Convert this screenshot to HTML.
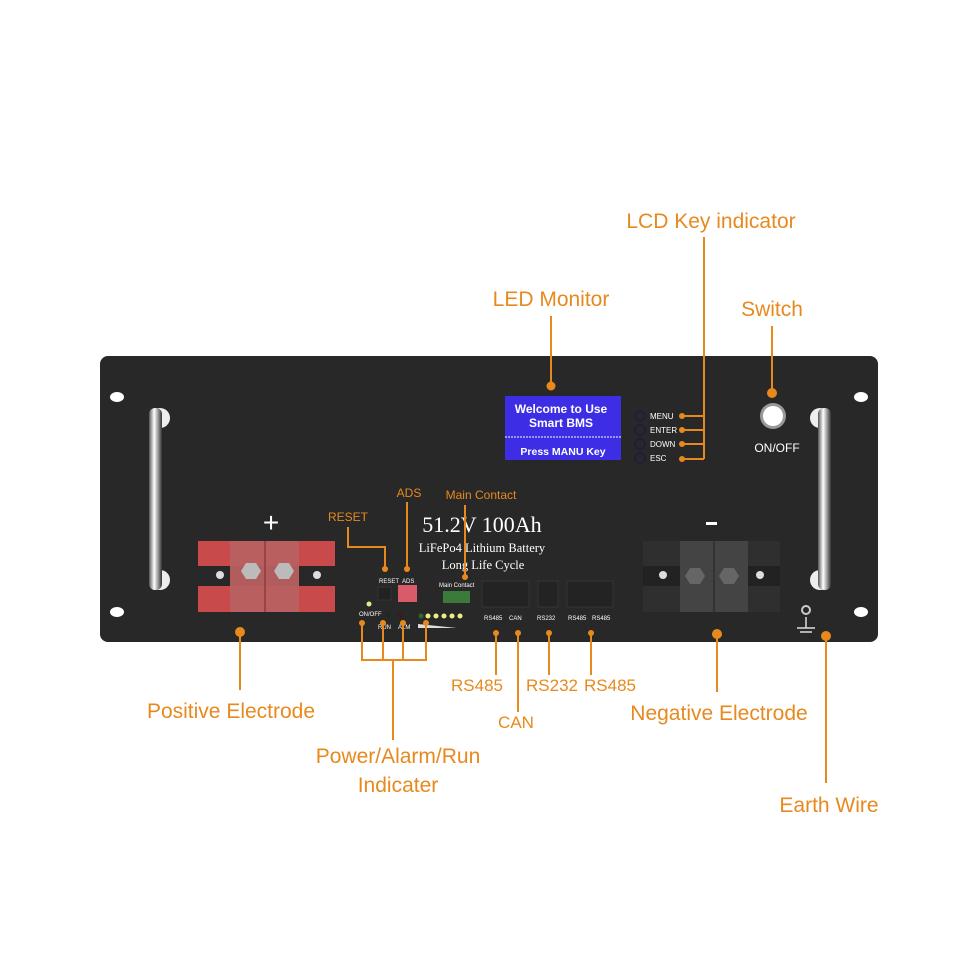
<!DOCTYPE html>
<html><head><meta charset="utf-8"><style>
html,body{margin:0;padding:0;background:#fff;width:960px;height:960px;overflow:hidden}
svg{display:block}
.o{fill:#e8891e;font-family:"Liberation Sans",sans-serif}
.w{fill:#fff;font-family:"Liberation Sans",sans-serif}
</style></head><body>
<svg width="960" height="960" viewBox="0 0 960 960">
<defs>
<linearGradient id="hd" x1="0" x2="1"><stop offset="0" stop-color="#555"/><stop offset=".4" stop-color="#fff"/><stop offset=".7" stop-color="#999"/><stop offset="1" stop-color="#333"/></linearGradient>
</defs>
<!-- panel -->
<rect x="100" y="356" width="778" height="286" rx="8" fill="#282828"/>
<!-- holes -->
<ellipse cx="117" cy="397" rx="7" ry="5" fill="#fff"/>
<ellipse cx="117" cy="612" rx="7" ry="5" fill="#fff"/>
<ellipse cx="861" cy="397" rx="7" ry="5" fill="#fff"/>
<ellipse cx="861" cy="612" rx="7" ry="5" fill="#fff"/>
<!-- handles -->
<circle cx="160" cy="418" r="10" fill="#eee"/><circle cx="160" cy="580" r="10" fill="#eee"/>
<rect x="149" y="408" width="13" height="182" rx="6" fill="url(#hd)"/>
<circle cx="820" cy="418" r="10" fill="#eee"/><circle cx="820" cy="580" r="10" fill="#eee"/>
<rect x="818" y="408" width="13" height="182" rx="6" fill="url(#hd)"/>
<!-- positive terminal -->
<rect x="198" y="541" width="137" height="71" fill="#c94a4a"/>
<rect x="198" y="566" width="137" height="20" fill="#282828"/>
<rect x="230" y="541" width="69" height="71" fill="#b86060" opacity=".95"/>
<rect x="264" y="541" width="2" height="71" fill="#944"/>
<polygon points="241,571 246,563 256,563 261,571 256,579 246,579" fill="#bbb"/>
<polygon points="274,571 279,563 289,563 294,571 289,579 279,579" fill="#bbb"/>
<circle cx="220" cy="575" r="4" fill="#ddd"/><circle cx="317" cy="575" r="4" fill="#ddd"/>
<text x="271" y="532" class="w" font-size="28" text-anchor="middle">+</text>
<!-- negative terminal -->
<rect x="643" y="541" width="137" height="71" fill="#2f2f2f"/>
<rect x="643" y="566" width="137" height="20" fill="#222"/>
<rect x="680" y="541" width="68" height="71" fill="#444"/>
<rect x="713" y="541" width="2" height="71" fill="#333"/>
<polygon points="685,576 690,568 700,568 705,576 700,584 690,584" fill="#666"/>
<polygon points="719,576 724,568 734,568 739,576 734,584 724,584" fill="#666"/>
<circle cx="663" cy="575" r="4" fill="#ddd"/><circle cx="760" cy="575" r="4" fill="#ddd"/>
<rect x="706" y="522" width="11" height="3" fill="#fff"/>
<!-- ground -->
<circle cx="806" cy="610" r="4" fill="none" stroke="#ccc" stroke-width="2"/>
<line x1="806" y1="617" x2="806" y2="628" stroke="#ddd" stroke-width="1.5"/>
<line x1="797" y1="628" x2="815" y2="628" stroke="#ddd" stroke-width="1.5"/>
<line x1="800" y1="632" x2="812" y2="632" stroke="#ddd" stroke-width="1.5"/>
<!-- LCD -->
<rect x="505" y="396" width="116" height="64" fill="#3d2ee6"/>
<line x1="505" y1="437" x2="621" y2="437" stroke="#fff" stroke-dasharray="2,1"/>
<text x="561" y="413" class="w" font-size="12" font-weight="bold" text-anchor="middle">Welcome to Use</text>
<text x="561" y="427" class="w" font-size="12" font-weight="bold" text-anchor="middle">Smart BMS</text>
<text x="563" y="455" class="w" font-size="10.5" font-weight="bold" text-anchor="middle">Press MANU Key</text>
<!-- keys -->
<g fill="none" stroke="#1a1a4a" stroke-width="1.2"><circle cx="640" cy="416" r="5"/><circle cx="640" cy="430" r="5"/><circle cx="640" cy="444" r="5"/><circle cx="640" cy="458" r="5"/></g>
<g class="w" font-size="8"><text x="650" y="419">MENU</text><text x="650" y="433">ENTER</text><text x="650" y="447">DOWN</text><text x="650" y="461">ESC</text></g>
<!-- switch -->
<circle cx="773" cy="416" r="13" fill="#999"/><circle cx="773" cy="416" r="10" fill="#fff"/>
<text x="777" y="452" class="w" font-size="12" text-anchor="middle">ON/OFF</text>
<!-- center texts -->
<text x="482" y="532" font-family="'Liberation Serif',serif" font-size="22" fill="#fff" text-anchor="middle">51.2V 100Ah</text>
<text x="482" y="552" font-family="'Liberation Serif',serif" font-size="12.5" fill="#fff" text-anchor="middle">LiFePo4 Lithium Battery</text>
<text x="483" y="569" font-family="'Liberation Serif',serif" font-size="12.5" fill="#fff" text-anchor="middle">Long Life Cycle</text>
<!-- small controls -->
<g class="w" font-size="6"><text x="379" y="583">RESET</text><text x="402" y="583">ADS</text><text x="439" y="587">Main Contact</text>
<text x="359" y="616">ON/OFF</text><text x="378" y="629">RUN</text><text x="398" y="629">ALM</text>
<text x="484" y="620">RS485</text><text x="509" y="620">CAN</text><text x="537" y="620">RS232</text><text x="568" y="620">RS485</text><text x="592" y="620">RS485</text></g>
<rect x="378" y="587" width="13" height="13" fill="#222" stroke="#333"/>
<rect x="398" y="585" width="19" height="17" fill="#d95b6a"/>
<rect x="443" y="591" width="27" height="12" fill="#3b7a3b"/>
<rect x="482" y="581" width="47" height="26" fill="#232323" stroke="#333"/>
<rect x="538" y="581" width="20" height="26" fill="#232323" stroke="#333"/>
<rect x="567" y="581" width="46" height="26" fill="#232323" stroke="#333"/>
<circle cx="369" cy="604" r="2.5" fill="#e4e88a"/>
<circle cx="388" cy="615" r="2.5" fill="#1c2a1c"/><circle cx="400" cy="615" r="2.5" fill="#3a1c1c"/>
<circle cx="421" cy="616" r="2.5" fill="#2a6a2a"/>
<g fill="#f0f080"><circle cx="428" cy="616" r="2.5"/><circle cx="436" cy="616" r="2.5"/><circle cx="444" cy="616" r="2.5"/><circle cx="452" cy="616" r="2.5"/><circle cx="460" cy="616" r="2.5"/></g>
<polygon points="418,624 418,628 457,628" fill="#ddd"/>
<!-- orange lines -->
<g stroke="#e8891e" stroke-width="2" fill="none">
<line x1="551" y1="316" x2="551" y2="386"/>
<polyline points="704,237 704,459"/>
<line x1="682" y1="416" x2="704" y2="416"/><line x1="682" y1="430" x2="704" y2="430"/><line x1="682" y1="444" x2="704" y2="444"/><line x1="682" y1="459" x2="704" y2="459"/>
<line x1="772" y1="326" x2="772" y2="393"/>
<polyline points="348,527 348,547 385,547 385,569"/>
<line x1="407" y1="502" x2="407" y2="569"/>
<line x1="465" y1="505" x2="465" y2="577"/>
<line x1="240" y1="632" x2="240" y2="690"/>
<line x1="717" y1="634" x2="717" y2="692"/>
<line x1="826" y1="636" x2="826" y2="783"/>
<line x1="496" y1="633" x2="496" y2="675"/><line x1="518" y1="633" x2="518" y2="712"/><line x1="549" y1="633" x2="549" y2="675"/><line x1="591" y1="633" x2="591" y2="675"/>
<polyline points="362,623 362,660 426,660 426,623"/>
<line x1="383" y1="623" x2="383" y2="660"/><line x1="403" y1="623" x2="403" y2="660"/>
<line x1="393" y1="660" x2="393" y2="740"/>
</g>
<g fill="#e8891e">
<circle cx="551" cy="386" r="4.5"/><circle cx="682" cy="416" r="3"/><circle cx="682" cy="430" r="3"/><circle cx="682" cy="444" r="3"/><circle cx="682" cy="459" r="3"/>
<circle cx="772" cy="393" r="5"/><circle cx="385" cy="569" r="3"/><circle cx="407" cy="569" r="3"/><circle cx="465" cy="577" r="3"/>
<circle cx="240" cy="632" r="5"/><circle cx="717" cy="634" r="5"/><circle cx="826" cy="636" r="5"/>
<circle cx="496" cy="633" r="3"/><circle cx="518" cy="633" r="3"/><circle cx="549" cy="633" r="3"/><circle cx="591" cy="633" r="3"/>
<circle cx="362" cy="623" r="3"/><circle cx="383" cy="623" r="3"/><circle cx="403" cy="623" r="3"/><circle cx="426" cy="623" r="3"/>
</g>
<!-- orange labels -->
<g class="o" text-anchor="middle">
<text x="551" y="306" font-size="21">LED Monitor</text>
<text x="711" y="228" font-size="21">LCD Key indicator</text>
<text x="772" y="316" font-size="21">Switch</text>
<text x="348" y="521" font-size="12">RESET</text>
<text x="409" y="497" font-size="12">ADS</text>
<text x="481" y="499" font-size="12">Main Contact</text>
<text x="231" y="718" font-size="21">Positive Electrode</text>
<text x="719" y="720" font-size="21">Negative Electrode</text>
<text x="829" y="812" font-size="21">Earth Wire</text>
<text x="477" y="691" font-size="17">RS485</text>
<text x="516" y="728" font-size="17">CAN</text>
<text x="552" y="691" font-size="17">RS232</text>
<text x="610" y="691" font-size="17">RS485</text>
<text x="398" y="763" font-size="21">Power/Alarm/Run</text>
<text x="398" y="792" font-size="21">Indicater</text>
</g>
</svg>
</body></html>
